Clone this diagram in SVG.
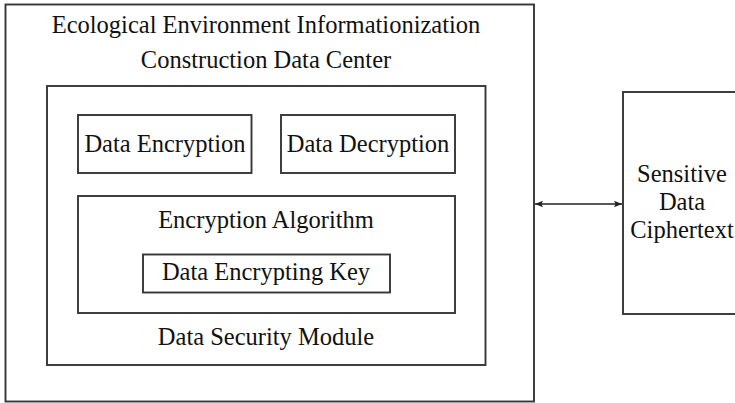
<svg xmlns="http://www.w3.org/2000/svg" width="735" height="403" viewBox="0 0 735 403">
<defs>
<style>
.box{fill:none;stroke:#363636;stroke-width:1.9}
.t{font-family:"Liberation Serif","Times New Roman",serif;font-size:24.5px;fill:#111;text-anchor:middle}
.c{stroke:#222;stroke-width:1.6;fill:none}
</style>
<marker id="ah" viewBox="0 0 10 10" refX="10" refY="5" markerWidth="8" markerHeight="8" orient="auto-start-reverse" markerUnits="userSpaceOnUse">
<path d="M0,1 L10,5 L0,9 L2,5 Z" fill="#222"/>
</marker>
</defs>
<rect width="735" height="403" fill="#fff"/>
<g id="data-center">
<rect class="box" x="5.5" y="4.5" width="528.5" height="397"/>
<text class="t" x="266" y="33">Ecological Environment Informationization</text>
<text class="t" x="266" y="68">Construction Data Center</text>
</g>
<g id="security-module">
<rect class="box" x="47" y="86" width="438.5" height="279"/>
<text class="t" x="266" y="345">Data Security Module</text>
</g>
<g id="data-encryption">
<rect class="box" x="78" y="115" width="173.5" height="58"/>
<text class="t" x="165" y="152">Data Encryption</text>
</g>
<g id="data-decryption">
<rect class="box" x="281" y="115" width="174" height="58"/>
<text class="t" x="368" y="152">Data Decryption</text>
</g>
<g id="encryption-algorithm">
<rect class="box" x="78" y="196" width="377" height="117"/>
<text class="t" x="266" y="228">Encryption Algorithm</text>
</g>
<g id="encrypting-key">
<rect class="box" x="143" y="254.5" width="247" height="38"/>
<text class="t" x="266" y="280">Data Encrypting Key</text>
</g>
<g id="ciphertext">
<rect class="box" x="623" y="92" width="120" height="222"/>
<text class="t" x="682" y="182">Sensitive</text>
<text class="t" x="682" y="210">Data</text>
<text class="t" x="682" y="238">Ciphertext</text>
</g>
<g id="connectors">
<line class="c" x1="535" y1="204" x2="622" y2="204" marker-start="url(#ah)" marker-end="url(#ah)"/>
</g>
</svg>
